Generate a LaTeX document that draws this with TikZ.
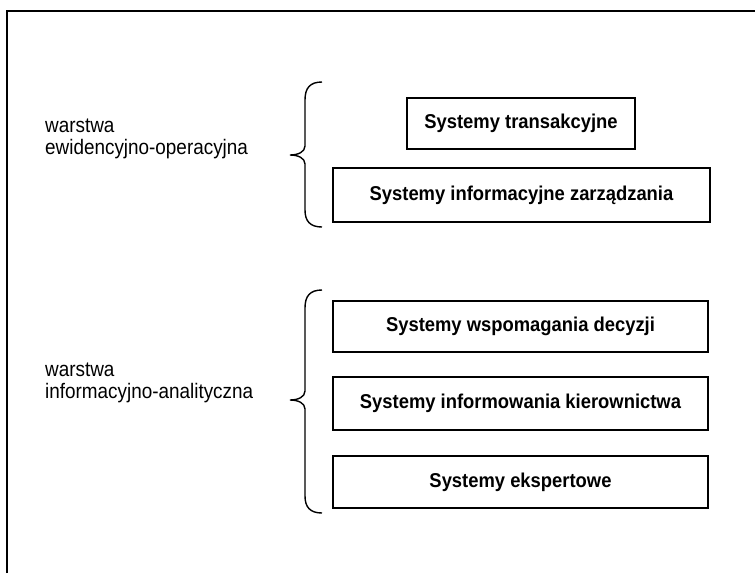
\documentclass[tikz,border=0pt]{standalone}
\usepackage{fontspec}
\setmainfont{Liberation Sans}
\newcommand{\narrowbox}[1]{\scalebox{0.92}[1]{#1}}
\newcommand{\narrowlab}[1]{\scalebox{0.9}[1]{#1}}
\begin{document}
\begin{tikzpicture}[x=1pt,y=-1pt,
  sysbox/.style={draw=black, line width=1.8pt, minimum height=52pt, inner sep=0pt,
    font=\fontsize{20}{22}\selectfont\bfseries},
  layerlabel/.style={anchor=north west, inner sep=0pt, align=left,
    font=\fontsize{21}{22}\selectfont},
  bracestyle/.style={draw=black, line width=1.4pt}]
\useasboundingbox (0,0) rectangle (755,573);
% outer frame (only left and top edges visible)
\coordinate (fbl) at (7,573);
\coordinate (ftl) at (7,11);
\coordinate (ftr) at (755,11);
\draw[line width=2pt] (fbl) -- (ftl) -- (ftr);

% boxes
\node[sysbox, minimum width=228pt, minimum height=51pt] (st) at (521,123.5) {\narrowbox{Systemy transakcyjne}};
\node[sysbox, minimum width=377pt, minimum height=54pt] (siz) at (521.5,195) {\narrowbox{Systemy informacyjne zarządzania}};
\node[sysbox, minimum width=375pt, minimum height=51pt] (swd) at (520.5,326.5) {\narrowbox{Systemy wspomagania decyzji}};
\node[sysbox, minimum width=375pt, minimum height=53pt] (sik) at (520.5,403.5) {\narrowbox{Systemy informowania kierownictwa}};
\node[sysbox, minimum width=375pt, minimum height=52pt] (se) at (520.5,482) {\narrowbox{Systemy ekspertowe}};

% labels
\node[layerlabel] (l1) at (45,119) {\narrowlab{warstwa}\\\narrowlab{ewidencyjno-operacyjna}};
\node[layerlabel] (l2) at (45,363) {\narrowlab{warstwa}\\\narrowlab{informacyjno-analityczna}};

% braces
\coordinate (b1t) at (322,82);
\coordinate (b1m) at (290,155);
\coordinate (b1b) at (322,227);
\draw[bracestyle] (b1t) .. controls (310,82) and (305,88) .. (305,100)
  -- (305,146) .. controls (305,152) and (298,155) .. (b1m)
  .. controls (298,155) and (305,158) .. (305,164)
  -- (305,210) .. controls (305,221) and (310,227) .. (b1b);

\coordinate (b2t) at (322,290);
\coordinate (b2m) at (290,400);
\coordinate (b2b) at (322,513);
\draw[bracestyle] (b2t) .. controls (310,290) and (305,296) .. (305,308)
  -- (305,391) .. controls (305,397) and (298,400) .. (b2m)
  .. controls (298,400) and (305,403) .. (305,409)
  -- (305,496) .. controls (305,507) and (310,513) .. (b2b);
\end{tikzpicture}
\end{document}
